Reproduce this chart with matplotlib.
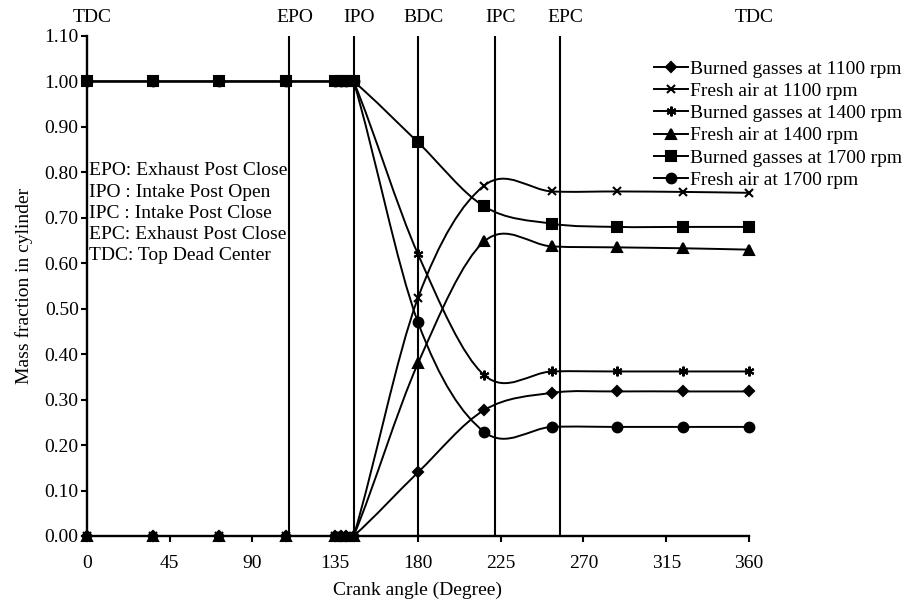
import numpy as np
import matplotlib
matplotlib.use("Agg")
import matplotlib.pyplot as plt
from matplotlib.path import Path
from matplotlib.patches import PathPatch
from matplotlib.lines import Line2D

plt.rcParams['font.family'] = ['Liberation Serif', 'DejaVu Serif']

# crank angle of each sample (degree)
angle = [0, 36, 72, 108, 135, 138, 141, 145, 180, 216, 253, 288, 324, 360]

burned_1100 = [0, 0, 0, 0, 0, 0, 0, 0, 0.14, 0.277, 0.315, 0.318, 0.318, 0.318]
fresh_1100 = [0, 0, 0, 0, 0, 0, 0, 0, 0.524, 0.771, 0.758, 0.758, 0.757, 0.755]
burned_1400 = [1, 1, 1, 1, 1, 1, 1, 1, 0.62, 0.354, 0.362, 0.362, 0.362, 0.362]
fresh_1400 = [0, 0, 0, 0, 0, 0, 0, 0, 0.38, 0.648, 0.637, 0.635, 0.633, 0.630]
burned_1700 = [1, 1, 1, 1, 1, 1, 1, 1, 0.866, 0.725, 0.687, 0.680, 0.680, 0.680]
fresh_1700 = [1, 1, 1, 1, 1, 1, 1, 1, 0.47, 0.229, 0.240, 0.240, 0.240, 0.240]

labels = ['Burned gasses at 1100 rpm', 'Fresh air at 1100 rpm',
          'Burned gasses at 1400 rpm', 'Fresh air at 1400 rpm',
          'Burned gasses at 1700 rpm', 'Fresh air at 1700 rpm']

# valve events / dead centres (degree)
event_names = ['TDC', 'EPO', 'IPO', 'BDC', 'IPC', 'EPC', 'TDC']
event_angles = [0, 110, 145, 180, 222, 257, 360]

note = ("EPO: Exhaust Post Close\nIPO : Intake Post Open\nIPC : Intake Post Close\n"
        "EPC: Exhaust Post Close\nTDC: Top Dead Center")

series = [burned_1100, fresh_1100, burned_1400, fresh_1400, burned_1700, fresh_1700]
markers = ['D', 'x', (6, 2, 0), '^', 's', 'o']
msizes = [5.5, 6, 7, 6.5, 6.5, 7]

FS = 14


def smooth_path(x, y):
    # smoothed line like a spreadsheet chart (cubic bezier through the points)
    x = np.asarray(x, float)
    y = np.asarray(y, float)
    n = len(x)
    s = np.zeros(n)
    for i in range(n):
        a = max(i - 1, 0)
        b = min(i + 1, n - 1)
        s[i] = (y[b] - y[a]) / (x[b] - x[a])
    verts = [(x[0], y[0])]
    codes = [Path.MOVETO]
    for i in range(n - 1):
        h = x[i + 1] - x[i]
        verts += [(x[i] + h / 3, y[i] + s[i] * h / 3),
                  (x[i + 1] - h / 3, y[i + 1] - s[i + 1] * h / 3),
                  (x[i + 1], y[i + 1])]
        codes += [Path.CURVE4] * 3
    return Path(verts, codes)


fig = plt.figure(figsize=(9.04, 6.0), dpi=100)
ax = fig.add_axes([87 / 904, 64 / 600, 662 / 904, 500 / 600])

for x0 in event_angles[1:-1]:
    ax.plot([x0, x0], [0, 1.1], color='black', lw=1.5)

handles = []
for ys, mk, ms, lab in zip(series, markers, msizes, labels):
    ax.add_patch(PathPatch(smooth_path(angle, ys), fill=False, edgecolor='black',
                           lw=1.4, clip_on=False))
    ax.plot(angle, ys, ls='none', marker=mk, ms=ms, color='black', mew=1.5,
            clip_on=False, zorder=3)
    handles.append(Line2D([], [], color='black', lw=1.4, marker=mk, ms=ms, mew=1.5))

for name, x0 in zip(event_names, event_angles):
    ax.text(x0 + 3, 1.036, name, transform=ax.get_xaxis_transform(), ha='center',
            va='center', fontsize=FS)

ax.text(1, 0.822, note, fontsize=FS, va='top', ha='left', linespacing=1.32)

ax.set_xlim(0, 360)
ax.set_ylim(0, 1.1)
ax.set_xticks(np.arange(0, 361, 45))
ax.set_yticks(np.arange(0, 1.101, 0.1))
ax.set_yticklabels([f'{v:.2f}' for v in np.arange(0, 1.101, 0.1)])
ax.tick_params(labelsize=FS, length=4, width=1.5, pad=2)
ax.tick_params(axis='x', pad=10)
for side in ['top', 'right']:
    ax.spines[side].set_visible(False)
for side in ['left', 'bottom']:
    ax.spines[side].set_linewidth(1.7)

ax.set_xlabel('Crank angle (Degree)', fontsize=FS, labelpad=7)
ax.set_ylabel('Mass fraction in cylinder', fontsize=FS, labelpad=8)

fig.legend(handles, labels, loc='upper left', bbox_to_anchor=(654 / 904, 1 - 60 / 600),
           frameon=False, fontsize=FS, numpoints=1, handlelength=1.75,
           handletextpad=0.1, labelspacing=0.24, borderpad=0, borderaxespad=0)

fig.savefig('out.png', dpi=100)
